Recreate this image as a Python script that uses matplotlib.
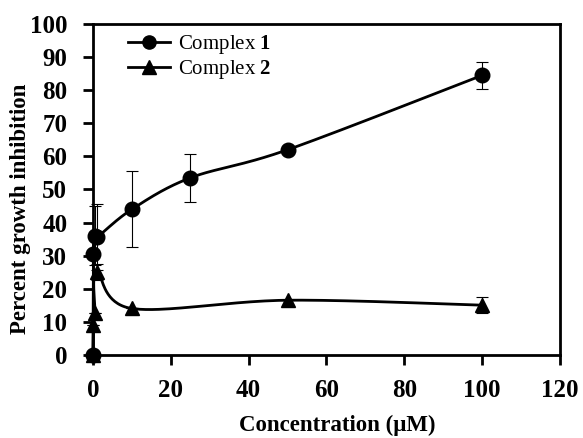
import numpy as np
import matplotlib
matplotlib.use("Agg")
import matplotlib.pyplot as plt
from matplotlib.lines import Line2D

# --- data --------------------------------------------------------------------
conc_1 = [0, 0.1, 0.5, 1, 10, 25, 50, 100]
inhib_1 = [0, 30.5, 36, 35.5, 44, 53.5, 62, 84.5]
err_1 = [0, 0, 9, 10, 11.5, 7.2, 0, 4]

conc_2 = [0, 0.1, 0.5, 1, 10, 50, 100]
inhib_2 = [0, 9, 12.5, 25, 14, 16.5, 15]
err_2 = [0, 0, 0, 2.5, 0, 0, 2.5]

x_ticks = [0, 20, 40, 60, 80, 100, 120]
y_ticks = [0, 10, 20, 30, 40, 50, 60, 70, 80, 90, 100]

SERIF = "Liberation Serif"
plt.rcParams["font.family"] = SERIF
plt.rcParams["mathtext.fontset"] = "custom"
plt.rcParams["mathtext.rm"] = SERIF
plt.rcParams["mathtext.bf"] = SERIF + ":bold"


def smooth(xs, ys, n=40):
    """Excel-style smoothed line: cubic bezier, control points at 1/6 of neighbour span."""
    p = np.column_stack([xs, ys]).astype(float)
    pts = np.vstack([p[0], p, p[-1]])
    out = []
    t = np.linspace(0, 1, n)[:, None]
    for i in range(1, len(pts) - 2):
        p0, p3 = pts[i], pts[i + 1]
        c1 = p0 + (pts[i + 1] - pts[i - 1]) / 6
        c2 = p3 - (pts[i + 2] - pts[i]) / 6
        seg = ((1 - t) ** 3) * p0 + 3 * ((1 - t) ** 2) * t * c1 \
            + 3 * (1 - t) * t ** 2 * c2 + t ** 3 * p3
        out.append(seg)
    s = np.vstack(out)
    return s[:, 0], s[:, 1]


fig = plt.figure(figsize=(5.83, 4.38), dpi=100)
ax = fig.add_axes([0.1595, 0.19, 0.801, 0.755])

for xs, ys, es in [(conc_1, inhib_1, err_1), (conc_2, inhib_2, err_2)]:
    ax.errorbar(xs, ys, yerr=es, fmt="none", ecolor="black",
                elinewidth=0.8, capsize=4, capthick=0.8, zorder=2)

sx, sy = smooth(conc_1, inhib_1)
ax.plot(sx, sy, color="black", lw=2, zorder=3)
ax.plot(conc_1, inhib_1, "o", color="black", ms=10.5, zorder=4)

sx, sy = smooth(conc_2, inhib_2)
ax.plot(sx, sy, color="black", lw=2, zorder=3)
ax.plot(conc_2, inhib_2, "^", color="black", ms=10.5, zorder=4)

ax.set_xlim(0, 120)
ax.set_ylim(0, 100)
ax.set_xticks(x_ticks)
ax.set_yticks(y_ticks)
ax.tick_params(direction="out", length=7.5, width=2, labelsize=18,
               top=False, right=False)
ax.tick_params(axis="y", pad=11)
ax.tick_params(axis="x", pad=10)
for lab in ax.get_xticklabels() + ax.get_yticklabels():
    lab.set_fontweight("bold")
for sp in ax.spines.values():
    sp.set_linewidth(2)
for art in ax.lines:
    art.set_clip_on(False)

ax.set_xlabel("Concentration (μM)", fontsize=16.5, fontweight="bold")
ax.set_ylabel("Percent growth inhibition", fontsize=16.5, fontweight="bold")
ax.xaxis.set_label_coords(0.522, -0.215, transform=ax.transAxes)
ax.yaxis.set_label_coords(-0.155, 0.44, transform=ax.transAxes)
ax.xaxis.label.set_va("center")
ax.yaxis.label.set_va("center")

handles = [
    Line2D([], [], color="black", lw=2, marker="o", ms=9.5),
    Line2D([], [], color="black", lw=2, marker="^", ms=10),
]
ax.legend(handles, [r"Complex $\mathbf{1}$", r"Complex $\mathbf{2}$"],
          loc="upper left", bbox_to_anchor=(0.035, 1.03), frameon=False,
          fontsize=15, handlelength=2.0, labelspacing=0.1, handletextpad=0.4)

fig.savefig("out.png", dpi=100)
